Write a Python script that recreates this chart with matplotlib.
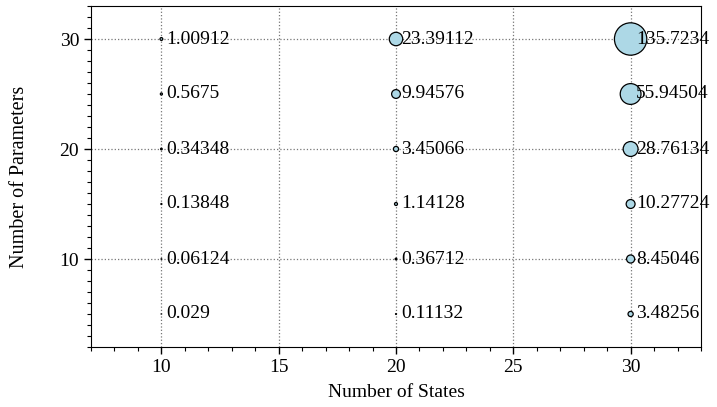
import matplotlib
matplotlib.use("Agg")
import matplotlib.pyplot as plt
from matplotlib.ticker import MultipleLocator

plt.rcParams["font.family"] = ["Liberation Serif", "DejaVu Serif"]

# Grid of model sizes and the measured values for each combination
states = [10, 20, 30]
parameters = [30, 25, 20, 15, 10, 5]
values_10 = [1.00912, 0.5675, 0.34348, 0.13848, 0.06124, 0.029]
values_20 = [23.39112, 9.94576, 3.45066, 1.14128, 0.36712, 0.11132]
values_30 = [135.7234, 55.94504, 28.76134, 10.27724, 8.45046, 3.48256]
values_by_state = [values_10, values_20, values_30]

fig = plt.figure(figsize=(7.17, 4.07), dpi=100)
ax = fig.add_axes([91 / 717, 1 - 347 / 407, 610 / 717, 341 / 407])

size_scale = 4.0
for s, vals in zip(states, values_by_state):
    xs = [s] * len(parameters)
    ax.scatter(xs, parameters, s=[v * size_scale for v in vals],
               facecolor="#add8e6", edgecolor="black", linewidth=0.9, zorder=3)
    for p, v in zip(parameters, vals):
        ax.text(s + 0.22, p, str(v), ha="left", va="center",
                fontsize=14, zorder=4)

ax.set_xlim(7, 33)
ax.set_ylim(2, 33)
ax.xaxis.set_major_locator(MultipleLocator(5))
ax.xaxis.set_minor_locator(MultipleLocator(1))
ax.yaxis.set_major_locator(MultipleLocator(10))
ax.yaxis.set_minor_locator(MultipleLocator(1))
ax.tick_params(which="both", direction="out", top=False, right=False, labelsize=14)
ax.tick_params(which="major", length=5, width=1)
ax.tick_params(which="minor", length=3, width=0.8)
ax.grid(True, which="major", linestyle=":", color="#777777", linewidth=0.9, zorder=0)

ax.set_xlabel("Number of States", fontsize=14, labelpad=6)
ax.set_ylabel("Number of Parameters", fontsize=14.5, labelpad=22)

fig.savefig("out.png", dpi=100)
